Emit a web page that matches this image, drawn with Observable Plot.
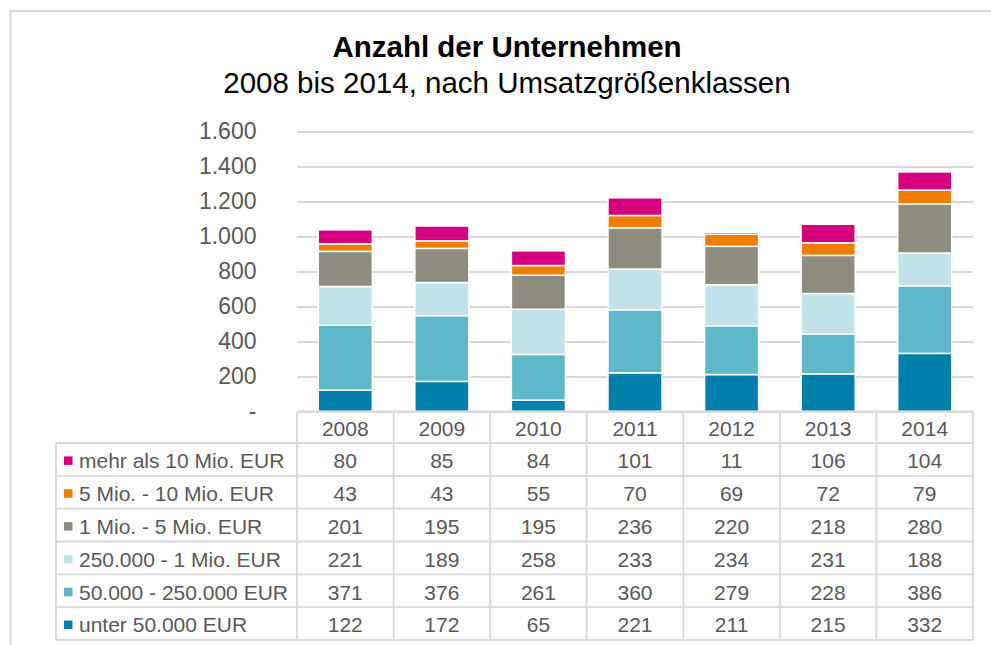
<!DOCTYPE html>
<html><head><meta charset="utf-8">
<script src="https://cdn.jsdelivr.net/npm/d3@7"></script>
<script src="https://cdn.jsdelivr.net/npm/@observablehq/plot@0.6"></script>
<style>body{margin:0;background:#fff}#chart{position:relative;width:991px;height:645px;overflow:hidden}</style>
</head><body><div id="chart"></div>
<script>
// ---- data ----
const title = "Anzahl der Unternehmen";
const subtitle = "2008 bis 2014, nach Umsatzgrößenklassen";
const years = ["2008","2009","2010","2011","2012","2013","2014"];
// classes in table order (top row first)
const classes = ["mehr als 10 Mio. EUR","5 Mio. - 10 Mio. EUR","1 Mio. - 5 Mio. EUR","250.000 - 1 Mio. EUR","50.000 - 250.000 EUR","unter 50.000 EUR"];
const colors  = ["#d6007e","#f07d00","#8f8c80","#c0e4ea","#5fb8c9","#0080aa"];
const mehr10   = [80,85,84,101,11,106,104];
const mio5_10  = [43,43,55,70,69,72,79];
const mio1_5   = [201,195,195,236,220,218,280];
const k250_1m  = [221,189,258,233,234,231,188];
const k50_250  = [371,376,261,360,279,228,386];
const unter50  = [122,172,65,221,211,215,332];
const seriesValues = [mehr10, mio5_10, mio1_5, k250_1m, k50_250, unter50];
const yTicks = [0,200,400,600,800,1000,1200,1400,1600];

// ---- build table ----
const stackOrder = classes.slice().reverse();
const data = [];
stackOrder.forEach(c => {
  const vals = seriesValues[classes.indexOf(c)];
  years.forEach((y,i) => data.push({year:y, cls:c, value:vals[i]}));
});
const fmt = d => d === 0 ? "-" : d3.format(",")(d).replace(/,/g,".");

const W = 991, H = 645;
const plotTop = 131.5, plotBottom = 411.5, plotLeft = 297, plotRight = 973;
const textColor = "#595959", lineColor = "#d9d9d9";
const font = "'Liberation Sans', Arial, sans-serif";

const chart = Plot.plot({
  width: W, height: H,
  marginTop: plotTop, marginBottom: H - plotBottom,
  marginLeft: plotLeft, marginRight: W - plotRight,
  style: {fontFamily: font, fontSize: "23px", color: textColor, background: "white", overflow: "visible"},
  x: {domain: years, paddingInner: 0.44, paddingOuter: 0.22, round: false, axis: null},
  y: {domain: [0,1600]},
  color: {domain: stackOrder, range: stackOrder.map(c => colors[classes.indexOf(c)])},
  marks: [
    Plot.gridY({ticks: yTicks, stroke: lineColor, strokeOpacity: 1, strokeWidth: 1.8}),
    Plot.axisY({ticks: yTicks, tickSize: 0, tickPadding: 41, tickFormat: fmt, label: null, fontSize: 23, fill: textColor}),
    Plot.barY(data, {x: "year", y: "value", fill: "cls", stroke: "white", strokeWidth: 1.5, order: stackOrder})
  ]
});
document.getElementById("chart").appendChild(chart);

// ---- title, frame and data table using Plot's scales ----
const svg = d3.select(chart);
const xs = chart.scale("x");
const step = xs.step ?? (plotRight - plotLeft) / years.length;
const bw = xs.bandwidth;
const centers = years.map(y => xs.apply(y) + bw / 2);

const g = svg.append("g").attr("font-family", font);
// frame
g.append("line").attr("x1",10.5).attr("x2",10.5).attr("y1",11).attr("y2",H).attr("stroke",lineColor).attr("stroke-width",2);
g.append("line").attr("x1",10).attr("x2",W).attr("y1",11).attr("y2",11).attr("stroke",lineColor).attr("stroke-width",2);
// titles
g.append("text").attr("x",507).attr("y",57).attr("text-anchor","middle").attr("font-size",29.5).attr("font-weight","bold").attr("fill","#000").text(title);
g.append("text").attr("x",507).attr("y",92.5).attr("text-anchor","middle").attr("font-size",29.5).attr("fill","#000").text(subtitle);

// table
const headTop = plotBottom, headBottom = 443, tableBottom = 640, tableLeft = 56;
const rowH = (tableBottom - headBottom) / classes.length;
const tl = g.append("g").attr("stroke", lineColor).attr("stroke-width", 1.8);
tl.append("line").attr("x1",plotLeft).attr("x2",plotRight).attr("y1",headTop).attr("y2",headTop);
for (let i = 0; i <= classes.length; i++) {
  const y = headBottom + i * rowH;
  tl.append("line").attr("x1",tableLeft).attr("x2",plotRight).attr("y1",y).attr("y2",y);
}
tl.append("line").attr("x1",tableLeft).attr("x2",tableLeft).attr("y1",headBottom).attr("y2",tableBottom);
centers.forEach((c,i) => {
  tl.append("line").attr("x1",c - step/2).attr("x2",c - step/2).attr("y1",headTop).attr("y2",tableBottom);
  if (i === centers.length - 1)
    tl.append("line").attr("x1",c + step/2).attr("x2",c + step/2).attr("y1",headTop).attr("y2",tableBottom);
});
const tt = g.append("g").attr("font-size",21).attr("fill",textColor);
centers.forEach((c,i) => {
  tt.append("text").attr("x",c).attr("y",(headTop+headBottom)/2 + 1).attr("dy","0.35em").attr("text-anchor","middle").text(years[i]);
});
classes.forEach((cls,r) => {
  const cy = headBottom + r * rowH + rowH/2 + 1.5;
  tt.append("rect").attr("x",64).attr("y",cy - 4.5).attr("width",8.5).attr("height",8.5).attr("fill",colors[r]);
  tt.append("text").attr("x",79).attr("y",cy).attr("dy","0.35em").attr("text-anchor","start").text(cls);
  centers.forEach((c,i) => {
    tt.append("text").attr("x",c).attr("y",cy).attr("dy","0.35em").attr("text-anchor","middle").text(fmt(seriesValues[r][i]));
  });
});
</script>
</body></html>
